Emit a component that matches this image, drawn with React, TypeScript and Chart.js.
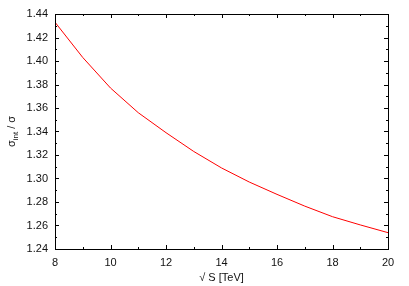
import React, { useEffect, useRef } from "react";
import { Chart, registerables } from "chart.js";

Chart.register(...registerables);

const energies = [8, 9, 10, 11, 12, 13, 14, 15, 16, 17, 18, 19, 20];
const ratio = [1.433, 1.403, 1.377, 1.356, 1.339, 1.323, 1.309, 1.297, 1.2865, 1.2765, 1.2675, 1.2605, 1.2539];
const xMin = 8;
const xMax = 20;
const yMin = 1.24;
const yMax = 1.44;
const xTitle = "\u221A S [TeV]";
const yTitleMain = "\u03C3";
const yTitleSub = "int";
const yTitleRest = " / \u03C3";

const FONT = "'Liberation Sans', Arial, Helvetica, sans-serif";

const framePlugin = {
  id: "frame",
  afterDraw(chart: any) {
    const { ctx, chartArea: a, scales } = chart;
    const xs = scales.x;
    const ys = scales.y;
    ctx.save();
    ctx.strokeStyle = "#000";
    ctx.lineWidth = 1;
    ctx.strokeRect(Math.round(a.left) + 0.5, Math.round(a.top) + 0.5, Math.round(a.right - a.left), Math.round(a.bottom - a.top));
    ctx.beginPath();
    for (let v = xMin; v <= xMax; v += 1) {
      const px = Math.round(xs.getPixelForValue(v)) + 0.5;
      const len = v % 2 === 0 ? 4 : 2;
      ctx.moveTo(px, a.bottom);
      ctx.lineTo(px, a.bottom - len);
      ctx.moveTo(px, a.top);
      ctx.lineTo(px, a.top + len);
    }
    const n = Math.round((yMax - yMin) / 0.01);
    for (let i = 0; i <= n; i++) {
      const v = yMin + i * 0.01;
      const py = Math.round(ys.getPixelForValue(v)) + 0.5;
      const len = i % 2 === 0 ? 4 : 2;
      ctx.moveTo(a.left, py);
      ctx.lineTo(a.left + len, py);
      ctx.moveTo(a.right, py);
      ctx.lineTo(a.right - len, py);
    }
    ctx.stroke();

    // y title with subscript
    const mainFont = `11px ${FONT}`;
    const subFont = `8px ${FONT}`;
    ctx.font = mainFont;
    const w1 = ctx.measureText(yTitleMain).width;
    const w3 = ctx.measureText(yTitleRest).width;
    ctx.font = subFont;
    const w2 = ctx.measureText(yTitleSub).width;
    const total = w1 + w2 + w3;
    const cy = (a.top + a.bottom) / 2;
    ctx.translate(15, cy);
    ctx.rotate(-Math.PI / 2);
    ctx.fillStyle = "#111";
    ctx.textBaseline = "alphabetic";
    ctx.textAlign = "left";
    let x0 = -total / 2;
    ctx.font = mainFont;
    ctx.fillText(yTitleMain, x0, 0);
    x0 += w1;
    ctx.font = subFont;
    ctx.fillText(yTitleSub, x0, 3);
    x0 += w2;
    ctx.font = mainFont;
    ctx.fillText(yTitleRest, x0, 0);
    ctx.restore();
  },
};

export default function App() {
  const ref = useRef<HTMLCanvasElement | null>(null);
  useEffect(() => {
    document.body.style.margin = "0";
    const canvas = ref.current!;
    const chart = new Chart(canvas, {
      type: "line",
      data: {
        datasets: [
          {
            data: energies.map((e, i) => ({ x: e, y: ratio[i] })),
            borderColor: "#ff0000",
            borderWidth: 1,
            pointRadius: 0,
            fill: false,
            tension: 0,
          },
        ],
      },
      options: {
        responsive: false,
        animation: false,
        devicePixelRatio: 1,
        layout: { padding: { top: 14, right: 21, left: 0, bottom: 0 } },
        plugins: { legend: { display: false }, tooltip: { enabled: false } },
        scales: {
          x: {
            type: "linear",
            min: xMin,
            max: xMax,
            grid: { display: false, drawTicks: false },
            border: { display: false },
            ticks: {
              stepSize: 2,
              padding: 7,
              color: "#111",
              font: { family: FONT, size: 11 },
              maxRotation: 0,
            },
            title: {
              display: true,
              text: xTitle,
              color: "#111",
              font: { family: FONT, size: 11 },
              padding: { top: 0, bottom: 1 },
            },
            afterFit: (s: any) => {
              s.height = 37;
            },
          },
          y: {
            type: "linear",
            min: yMin,
            max: yMax,
            grid: { display: false, drawTicks: false },
            border: { display: false },
            ticks: {
              stepSize: 0.02,
              padding: 7,
              color: "#111",
              font: { family: FONT, size: 11 },
              callback: (v: any) => Number(v).toFixed(2),
            },
            afterFit: (s: any) => {
              s.width = 55;
            },
          },
        },
      },
      plugins: [framePlugin],
    });
    return () => chart.destroy();
  }, []);
  return <canvas ref={ref} width={409} height={286} style={{ display: "block" }} />;
}
